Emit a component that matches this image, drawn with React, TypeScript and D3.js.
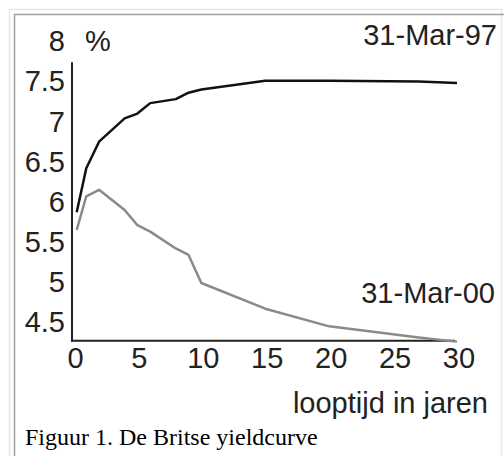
import React from "react";
import * as d3 from "d3";

// looptijd (jaren) en rentes in %
const maturities = [0.25, 1, 2, 4, 5, 6, 8, 9, 10, 15, 20, 27, 30];
const yield97 = [5.87, 6.42, 6.75, 7.04, 7.1, 7.23, 7.28, 7.36, 7.4, 7.51, 7.51, 7.5, 7.48];
const yield00 = [5.65, 6.07, 6.15, 5.9, 5.71, 5.63, 5.42, 5.34, 4.99, 4.67, 4.45, 4.31, 4.26];
const yTicks = [8, 7.5, 7, 6.5, 6, 5.5, 5, 4.5];
const xTicks = [0, 5, 10, 15, 20, 25, 30];

const W = 504;
const H = 456;
const sans = "Arial, 'Liberation Sans', sans-serif";

export default function App() {
  const x = d3.scaleLinear().domain([0, 30]).range([73.5, 457]);
  const y = d3.scaleLinear().domain([6, 8]).range([201.9, 41.3]);

  const line = d3
    .line<number>()
    .x((_, i) => x(maturities[i]))
    .y((d) => y(d));

  const axisLeft = x(0) - 1.5;
  const axisBottom = y(4.27);

  return (
    <svg
      width={W}
      height={H}
      style={{ position: "absolute", left: 0, top: 0, background: "#fff" }}
    >
      {/* kader */}
      <path d={`M9.5,${H} V9.5 H501.5 V${H}`} fill="none" stroke="#ece9d8" strokeWidth={1.5} />
      <path d={`M14.5,${H} V14.5 H${W}`} fill="none" stroke="#a0a0a0" strokeWidth={1.5} />

      {/* assen */}
      <line x1={axisLeft} x2={axisLeft} y1={y(7.74)} y2={axisBottom + 1} stroke="#222" strokeWidth={2} />
      <line x1={axisLeft - 1} x2={x(30) - 2} y1={axisBottom} y2={axisBottom} stroke="#222" strokeWidth={2} />

      {yTicks.map((t) => (
        <text
          key={t}
          x={65}
          y={y(t) + 10}
          textAnchor="end"
          fontFamily={sans}
          fontSize={29}
          fill="#222"
        >
          {t}
        </text>
      ))}
      <text x={85} y={y(8) + 10} fontFamily={sans} fontSize={29} fill="#222">
        %
      </text>

      {xTicks.map((t) => (
        <text
          key={t}
          x={x(t) + 2}
          y={368}
          textAnchor="middle"
          fontFamily={sans}
          fontSize={29}
          fill="#222"
        >
          {t}
        </text>
      ))}

      {/* lijnen */}
      <path d={line(yield00) ?? ""} fill="none" stroke="#8a8a8a" strokeWidth={2.5} strokeLinejoin="round" />
      <path d={line(yield97) ?? ""} fill="none" stroke="#111" strokeWidth={2.5} strokeLinejoin="round" />

      <text x={497} y={45} textAnchor="end" fontFamily={sans} fontSize={29} fill="#222">
        31-Mar-97
      </text>
      <text x={495} y={303} textAnchor="end" fontFamily={sans} fontSize={29} fill="#222">
        31-Mar-00
      </text>
      <text x={488} y={413} textAnchor="end" fontFamily={sans} fontSize={29} fill="#222">
        looptijd in jaren
      </text>
      <text x={25} y={445} fontFamily="'Times New Roman', 'Liberation Serif', serif" fontSize={24} fill="#000">
        Figuur 1. De Britse yieldcurve
      </text>
    </svg>
  );
}
